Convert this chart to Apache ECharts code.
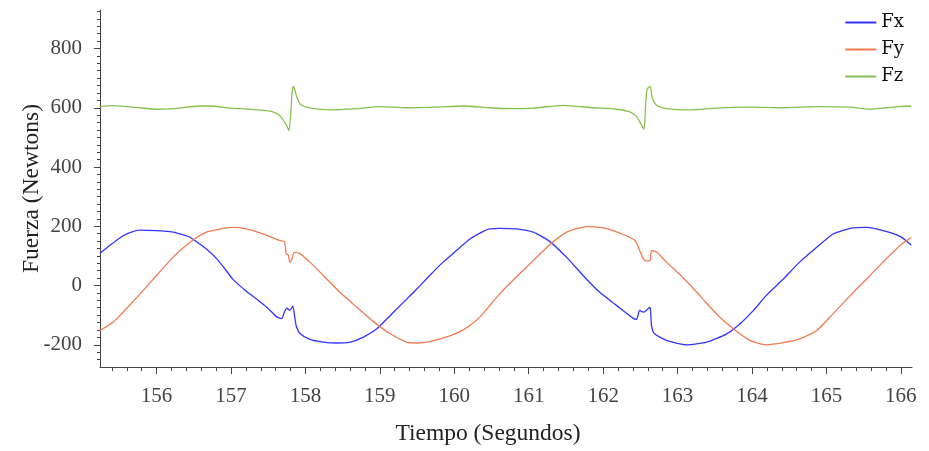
<!DOCTYPE html>
<html><head><meta charset="utf-8">
<script src="https://cdn.jsdelivr.net/npm/echarts@6/dist/echarts.min.js"></script>
<style>html,body{margin:0;padding:0;background:#fff}#c{width:929px;height:451px}</style>
</head><body><div id="c"></div>
<script>
// ---- data ----
const fxTime = [155.24,155.37,155.55,155.68,155.78,156.00,156.22,156.36,156.45,156.58,156.67,156.81,156.90,157.03,157.21,157.34,157.48,157.61,157.68,157.72,157.75,157.79,157.83,157.86,157.88,157.93,158.06,158.24,158.42,158.60,158.78,158.96,159.14,159.32,159.50,159.67,159.85,160.03,160.21,160.39,160.48,160.61,160.83,161.06,161.28,161.51,161.73,161.95,162.18,162.40,162.45,162.49,162.54,162.58,162.63,162.65,162.69,162.85,163.12,163.39,163.66,163.84,164.02,164.19,164.42,164.64,164.87,165.09,165.32,165.54,165.76,165.99,166.14];
const fxValues = [109,135,168,182,187,185,180,171,163,140,123,90,62,20,-20,-45,-73,-105,-112,-88,-76,-84,-70,-112,-140,-163,-182,-191,-194,-191,-174,-146,-101,-56,-11,34,79,118,157,183,191,193,191,180,149,95,34,-22,-67,-110,-114,-84,-90,-84,-73,-135,-163,-185,-200,-191,-163,-129,-84,-34,22,79,129,174,193,196,185,166,137];

const fyTime = [155.24,155.42,155.55,155.78,156.00,156.22,156.45,156.67,156.90,157.03,157.21,157.43,157.66,157.72,157.74,157.77,157.79,157.82,157.85,157.93,158.06,158.24,158.46,158.69,158.91,159.14,159.36,159.50,159.67,159.94,160.10,160.21,160.35,160.47,160.61,160.83,161.06,161.28,161.51,161.78,162.04,162.31,162.43,162.50,162.54,162.57,162.63,162.65,162.72,162.85,163.07,163.30,163.52,163.75,163.97,164.19,164.42,164.64,164.87,165.09,165.32,165.54,165.76,165.99,166.14];
const fyValues = [-152,-123,-90,-28,34,95,146,180,193,196,191,174,152,148,107,103,79,90,112,107,79,34,-22,-73,-121,-163,-191,-194,-189,-170,-152,-135,-105,-70,-28,28,84,137,180,199,193,168,152,113,90,83,84,118,113,79,28,-34,-95,-146,-185,-200,-193,-180,-152,-95,-34,22,79,135,163];

const fzTime = [155.24,155.42,155.78,156.00,156.22,156.58,156.72,156.99,157.25,157.52,157.61,157.68,157.75,157.78,157.81,157.82,157.84,157.88,157.93,158.06,158.33,158.69,159.00,159.36,159.76,160.12,160.48,160.75,161.06,161.46,161.87,162.18,162.36,162.45,162.51,162.55,162.57,162.59,162.63,162.66,162.72,162.85,163.16,163.52,163.97,164.42,164.87,165.32,165.58,165.81,165.99,166.14];
const fzValues = [604,607,600,595,597,606,606,599,595,589,581,567,539,522,606,651,673,640,612,600,593,597,604,600,602,606,600,597,599,608,600,595,586,570,544,527,606,662,673,634,608,597,593,599,602,600,604,602,595,600,604,606];

const seriesNames = ['Fx','Fy','Fz'];
const xTickLabels = [156,157,158,159,160,161,162,163,164,165,166];
const yTickLabels = [-200,0,200,400,600,800];

// ---- build ----
const zip = (t, v) => t.map((x, i) => [x, v[i]]);
const xMinor = [];
for (let k = 1554; k <= 1660; k += 2) { if (k % 10 !== 0) xMinor.push(k / 10); }
const yMinor = [];
for (let k = -250; k <= 925; k += 25) { if (k % 200 !== 0) yMinor.push(k); }

const axisColor = '#444';
const font = 'Liberation Serif';
const X_MIN = 155.24, X_MAX = 166.15, Y_MIN = -275, Y_MAX = 930;

const chart = echarts.init(document.getElementById('c'), null, {renderer: 'canvas'});
const line = (name, t, v, color) => ({
  name, type: 'line', data: zip(t, v), showSymbol: false, smooth: 0.2,
  lineStyle: {color, width: 1.3}, itemStyle: {color}
});
chart.setOption({
  animation: false,
  backgroundColor: '#fff',
  grid: {left: 100, right: 17, top: 10, bottom: 83, containLabel: false},
  legend: {
    data: seriesNames, orient: 'vertical', right: 20, top: 7,
    icon: 'rect', itemWidth: 31, itemHeight: 2, itemGap: 6,
    textStyle: {fontFamily: 'DejaVu Serif', fontSize: 18, color: '#111', lineHeight: 21}
  },
  xAxis: [{
    type: 'value', min: X_MIN, max: X_MAX, position: 'bottom',
    axisLine: {show: true, onZero: false, lineStyle: {color: axisColor, width: 1}},
    axisTick: {show: true, length: 7, customValues: xTickLabels, lineStyle: {color: axisColor}},
    axisLabel: {customValues: xTickLabels, fontFamily: font, fontSize: 21, color: '#444', margin: 19},
    splitLine: {show: false},
    name: 'Tiempo (Segundos)', nameLocation: 'middle', nameGap: 55, nameMoveOverlap: false,
    nameTextStyle: {fontFamily: font, fontSize: 23.5, color: '#222', padding: [0, 36, 0, 0]}
  }, {
    type: 'value', min: X_MIN, max: X_MAX, position: 'bottom',
    axisLine: {show: false, onZero: false},
    axisTick: {show: true, length: 4, customValues: xMinor, lineStyle: {color: axisColor}},
    axisLabel: {show: false}, splitLine: {show: false}
  }],
  yAxis: [{
    type: 'value', min: Y_MIN, max: Y_MAX, position: 'left',
    axisLine: {show: true, onZero: false, lineStyle: {color: axisColor, width: 1}},
    axisTick: {show: true, length: 6, customValues: yTickLabels, lineStyle: {color: axisColor}},
    axisLabel: {customValues: yTickLabels, fontFamily: font, fontSize: 21, color: '#444', margin: 18},
    splitLine: {show: false},
    name: 'Fuerza (Newtons)', nameLocation: 'middle', nameGap: 56, nameMoveOverlap: false,
    nameTextStyle: {fontFamily: font, fontSize: 23.5, color: '#222'}
  }, {
    type: 'value', min: Y_MIN, max: Y_MAX, position: 'left',
    axisLine: {show: false, onZero: false},
    axisTick: {show: true, length: 3, customValues: yMinor, lineStyle: {color: axisColor}},
    axisLabel: {show: false}, splitLine: {show: false}
  }],
  series: [
    line('Fx', fxTime, fxValues, '#3333ff'),
    line('Fy', fyTime, fyValues, '#f07a50'),
    line('Fz', fzTime, fzValues, '#86c150')
  ]
});
</script></body></html>
